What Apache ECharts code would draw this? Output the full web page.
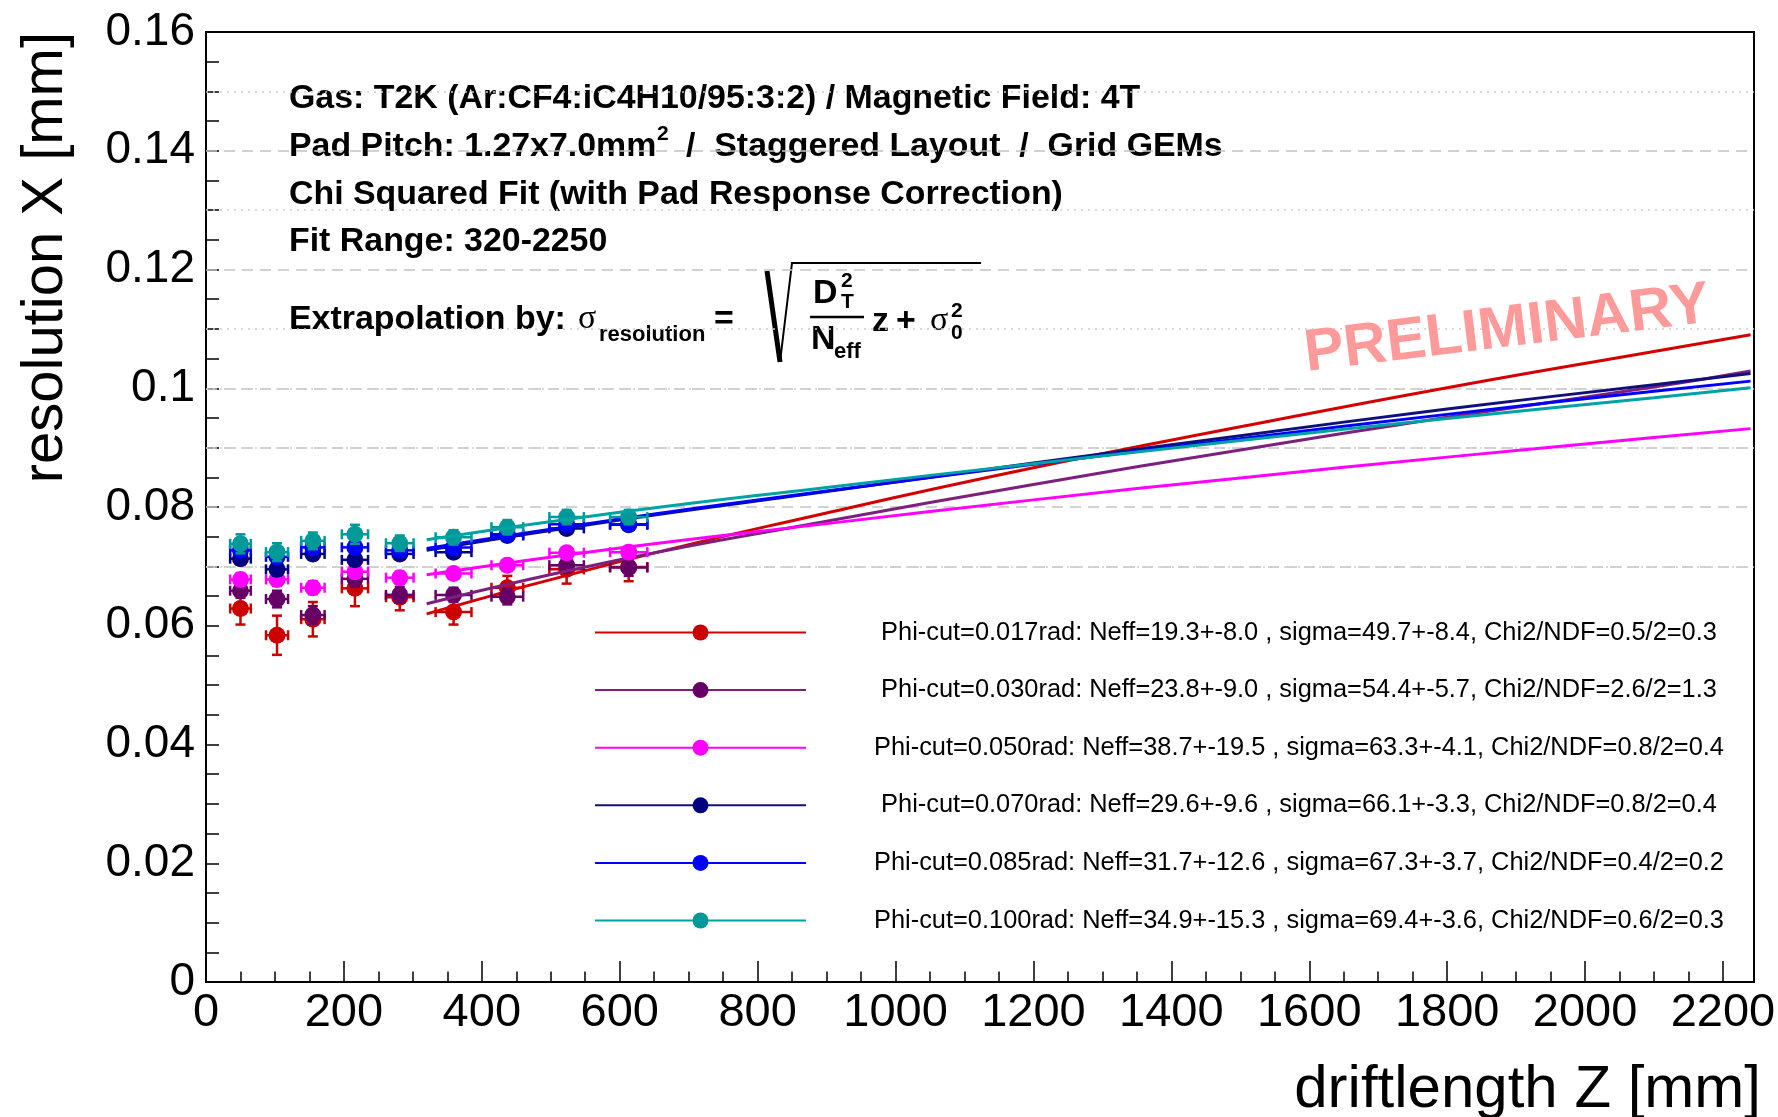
<!DOCTYPE html>
<html>
<head>
<meta charset="utf-8">
<script src="https://cdn.jsdelivr.net/npm/echarts@6/dist/echarts.min.js"></script>
<style>
  html, body { margin: 0; padding: 0; background: #ffffff; }
  #chart { width: 1778px; height: 1117px; }
</style>
</head>
<body>
<div id="chart"></div>
<script>
// ---- measured points: drift length bins (mm) and their half widths ----
const driftZ    = [50, 103, 155, 216, 281, 359, 437, 523, 613];
const driftZErr = [15, 16, 17, 19, 20, 26, 23, 25, 27];

// ---- legend / series labels ----
const seriesNames = [
  'Phi-cut=0.017rad: Neff=19.3+-8.0 , sigma=49.7+-8.4, Chi2/NDF=0.5/2=0.3',
  'Phi-cut=0.030rad: Neff=23.8+-9.0 , sigma=54.4+-5.7, Chi2/NDF=2.6/2=1.3',
  'Phi-cut=0.050rad: Neff=38.7+-19.5 , sigma=63.3+-4.1, Chi2/NDF=0.8/2=0.4',
  'Phi-cut=0.070rad: Neff=29.6+-9.6 , sigma=66.1+-3.3, Chi2/NDF=0.8/2=0.4',
  'Phi-cut=0.085rad: Neff=31.7+-12.6 , sigma=67.3+-3.7, Chi2/NDF=0.4/2=0.2',
  'Phi-cut=0.100rad: Neff=34.9+-15.3 , sigma=69.4+-3.6, Chi2/NDF=0.6/2=0.3'
];

// ---- resolution X (mm) per phi cut, with errors ----
const res017 = [0.0629, 0.0584, 0.0611, 0.0663, 0.0648, 0.0623, 0.0664, 0.0695, 0.0699];
const err017 = [0.0027, 0.0033, 0.0029, 0.0030, 0.0022, 0.0021, 0.0020, 0.0024, 0.0024];
const res030 = [0.0659, 0.0645, 0.0618, 0.0679, 0.0652, 0.0652, 0.0649, 0.0702, 0.0698];
const err030 = [0.0012, 0.0014, 0.0015, 0.0013, 0.0013, 0.0012, 0.0013, 0.0013, 0.0014];
const res050 = [0.0678, 0.0678, 0.0664, 0.0691, 0.0681, 0.0688, 0.0702, 0.0723, 0.0724];
const err050 = [0.0010, 0.0011, 0.0011, 0.0010, 0.0010, 0.0009, 0.0009, 0.0009, 0.0009];
const res070 = [0.0713, 0.0695, 0.0721, 0.0711, 0.0721, 0.0724, 0.0752, 0.0764, 0.0770];
const err070 = [0.0010, 0.0011, 0.0010, 0.0010, 0.0009, 0.0009, 0.0009, 0.0009, 0.0009];
const res085 = [0.0727, 0.0716, 0.0732, 0.0732, 0.0727, 0.0732, 0.0754, 0.0771, 0.0771];
const err085 = [0.0010, 0.0010, 0.0010, 0.0010, 0.0009, 0.0009, 0.0009, 0.0009, 0.0009];
const res100 = [0.0738, 0.0724, 0.0743, 0.0754, 0.0739, 0.0749, 0.0766, 0.0783, 0.0783];
const err100 = [0.0016, 0.0015, 0.0014, 0.0016, 0.0013, 0.0012, 0.0012, 0.0012, 0.0012];

// ---- extrapolated fit curves sampled along the drift length ----
const fitZ   = [320, 600, 900, 1200, 1500, 1800, 2100, 2240];
const fit017 = [0.0620, 0.0708, 0.0790, 0.0866, 0.0935, 0.1001, 0.1062, 0.1090];
const fit030 = [0.0637, 0.0711, 0.0776, 0.0838, 0.0896, 0.0951, 0.1002, 0.1029];
const fit050 = [0.0686, 0.0731, 0.0772, 0.0812, 0.0849, 0.0884, 0.0917, 0.0932];
const fit070 = [0.0727, 0.0778, 0.0826, 0.0874, 0.0920, 0.0965, 0.1006, 0.1025];
const fit085 = [0.0730, 0.0780, 0.0827, 0.0872, 0.0915, 0.0956, 0.0995, 0.1012];
const fit100 = [0.0745, 0.0791, 0.0833, 0.0873, 0.0912, 0.0949, 0.0984, 0.1001];

// ---- horizontal reference levels ----
const dashedLevels = [0.07, 0.08, 0.09, 0.10, 0.12, 0.14];
const dottedLevels = [0.075, 0.085, 0.095, 0.11, 0.13, 0.15];

// ---- styling ----
const FONT = '"Liberation Sans", Arial, Helvetica, sans-serif';
const SERIF = '"Liberation Serif", "DejaVu Serif", serif';
const markerColors = ['#cc0000', '#660066', '#ff00ff', '#000080', '#0000ff', '#009999'];
const lineColors   = ['#d40000', '#7d1f7d', '#ff00ff', '#10107a', '#0000ff', '#00a3a3'];

const resSets = [res017, res030, res050, res070, res085, res100];
const errSets = [err017, err030, err050, err070, err085, err100];
const fitSets = [fit017, fit030, fit050, fit070, fit085, fit100];

function errorBarRenderer(color) {
  return function (params, api) {
    const x = api.value(0), y = api.value(1), ex = api.value(2), ey = api.value(3);
    const c = api.coord([x, y]);
    const l = api.coord([x - ex, y]);
    const r = api.coord([x + ex, y]);
    const t = api.coord([x, y + ey]);
    const b = api.coord([x, y - ey]);
    const cap = 5;
    const style = { stroke: color, lineWidth: 2.5, fill: null };
    const seg = (x1, y1, x2, y2) => ({ type: 'line', shape: { x1, y1, x2, y2 }, style });
    return {
      type: 'group',
      children: [
        seg(l[0], c[1], r[0], c[1]),
        seg(l[0], c[1] - cap, l[0], c[1] + cap),
        seg(r[0], c[1] - cap, r[0], c[1] + cap),
        seg(c[0], t[1], c[0], b[1]),
        seg(c[0] - cap, t[1], c[0] + cap, t[1]),
        seg(c[0] - cap, b[1], c[0] + cap, b[1])
      ]
    };
  };
}

const series = [];

// background reference levels
series.push({
  type: 'line',
  name: 'levels',
  data: [],
  silent: true,
  z: 1,
  markLine: {
    silent: true,
    symbol: 'none',
    animation: false,
    label: { show: false },
    data: dashedLevels.map(v => ({ yAxis: v, lineStyle: { type: [11, 7], color: '#c4c4c4', width: 1.6 } }))
      .concat(dottedLevels.map(v => ({ yAxis: v, lineStyle: { type: [2, 5], color: '#cdcdcd', width: 1.6 } })))
  }
});

seriesNames.forEach((name, i) => {
  const base = 10 + i * 3;
  // fit curve (first so that the legend icon shows line + marker)
  series.push({
    type: 'line',
    name,
    data: fitZ.map((z, k) => [z, fitSets[i][k]]),
    smooth: true,
    symbol: 'circle',
    symbolSize: 16,
    showSymbol: false,
    silent: true,
    lineStyle: { color: lineColors[i], width: 3 },
    itemStyle: { color: markerColors[i] },
    z: base + 2
  });
  // error bars
  series.push({
    type: 'custom',
    name,
    silent: true,
    renderItem: errorBarRenderer(markerColors[i]),
    encode: { x: 0, y: 1 },
    data: driftZ.map((z, k) => [z, resSets[i][k], driftZErr[k], errSets[i][k]]),
    z: base
  });
  // markers
  series.push({
    type: 'scatter',
    name,
    silent: true,
    symbol: 'circle',
    symbolSize: 17,
    itemStyle: { color: markerColors[i], opacity: 1 },
    data: driftZ.map((z, k) => [z, resSets[i][k]]),
    z: base + 1
  });
});

const H1 = 'bold 33.9px ' + FONT;
const HS = 'bold 21px ' + FONT;
const txt = (x, y, text, font, extra) => Object.assign({
  type: 'text', x, y, silent: true,
  style: Object.assign({ text, font, fill: '#000', textAlign: 'left', textVerticalAlign: 'middle' }, extra || {})
});

const graphics = [
  // axis titles
  { type: 'text', x: 46, y: 32, rotation: Math.PI / 2, silent: true,
    style: { text: 'resolution X [mm]', font: '58px ' + FONT, fill: '#000', textAlign: 'right', textVerticalAlign: 'middle' } },
  { type: 'text', x: 1761, y: 1090, silent: true,
    style: { text: 'driftlength Z [mm]', font: '60px ' + FONT, fill: '#000', textAlign: 'right', textVerticalAlign: 'middle' } },

  // run description
  txt(289, 99, 'Gas: T2K (Ar:CF4:iC4H10/95:3:2) / Magnetic Field: 4T', H1),
  txt(289, 147, 'Pad Pitch: 1.27x7.0mm', H1),
  txt(657, 134, '2', HS),
  txt(686, 147, '/  Staggered Layout  /  Grid GEMs', H1),
  txt(289, 195, 'Chi Squared Fit (with Pad Response Correction)', H1),
  txt(289, 242, 'Fit Range: 320-2250', H1),

  // extrapolation formula
  txt(289, 320, 'Extrapolation by:', H1),
  txt(578, 319, 'σ', '34px ' + SERIF),
  txt(599, 335, 'resolution', 'bold 22px ' + FONT),
  txt(714, 320, '=', H1),
  { type: 'polyline', silent: true, shape: { points: [[767, 271], [780, 362]] },
    style: { stroke: '#000', lineWidth: 5, fill: null } },
  { type: 'polyline', silent: true, shape: { points: [[780, 362], [792, 263], [981, 263]] },
    style: { stroke: '#000', lineWidth: 2, fill: null } },
  txt(813, 294, 'D', H1),
  txt(841, 281, '2', HS),
  txt(841, 302, 'T', HS),
  { type: 'line', silent: true, shape: { x1: 810, y1: 317, x2: 864, y2: 317 },
    style: { stroke: '#000', lineWidth: 2.5 } },
  txt(811, 340, 'N', H1),
  txt(834, 352, 'eff', 'bold 22px ' + FONT),
  txt(872, 322, 'z', H1),
  txt(896, 322, '+', H1),
  txt(930, 321, 'σ', '34px ' + SERIF),
  txt(951, 311, '2', HS),
  txt(951, 333, '0', HS),

  // watermark
  { type: 'text', x: 1507, y: 330, rotation: 0.122, silent: true, z: 100,
    style: { text: 'PRELIMINARY', font: 'bold 59.5px ' + FONT, fill: '#ff9a9a', textAlign: 'center', textVerticalAlign: 'middle' } }
];

const chart = echarts.init(document.getElementById('chart'), null, { renderer: 'canvas' });
chart.setOption({
  animation: false,
  backgroundColor: '#ffffff',
  grid: {
    left: 206, right: 24, top: 32, bottom: 135,
    containLabel: false,
    outerBoundsMode: 'none',
    show: true, borderColor: '#000', borderWidth: 2, backgroundColor: 'transparent'
  },
  xAxis: [
    {
      type: 'value', min: 0, max: 2245, interval: 200,
      axisLine: { show: true, onZero: false, lineStyle: { color: '#000', width: 2 } },
      axisTick: { show: true, inside: true, length: 21, lineStyle: { color: '#000', width: 1.5 } },
      minorTick: { show: false },
      splitLine: { show: false },
      axisLabel: {
        show: true, color: '#000', fontSize: 47, fontFamily: FONT, margin: 8,
        showMaxLabel: false, hideOverlap: false,
        formatter: v => String(Math.round(v))
      }
    },
    {
      // fine ticks every 50 mm
      type: 'value', min: 0, max: 2245, interval: 50, position: 'bottom',
      axisLine: { show: false },
      axisTick: { show: true, inside: true, length: 10.5, lineStyle: { color: '#000', width: 1.5 } },
      axisLabel: { show: false },
      splitLine: { show: false }
    }
  ],
  yAxis: {
    type: 'value', min: 0, max: 0.16, interval: 0.02,
    axisLine: { show: true, onZero: false, lineStyle: { color: '#000', width: 2 } },
    axisTick: { show: true, inside: true, length: 13, lineStyle: { color: '#000', width: 1.5 } },
    minorTick: { show: true, splitNumber: 4, length: 13, lineStyle: { color: '#000', width: 1.5 } },
    splitLine: { show: false },
    axisLabel: {
      color: '#000', fontSize: 46, fontFamily: FONT, margin: 11,
      formatter: v => (v === 0 ? '0' : String(+v.toFixed(3)))
    }
  },
  legend: {
    data: seriesNames,
    orient: 'vertical',
    left: 589, top: 615,
    itemWidth: 211, itemHeight: 20, itemGap: 32.6,
    selectedMode: false,
    lineStyle: { width: 2 },
    formatter: name => '{c|' + name + '}',
    textStyle: {
      color: '#000', fontSize: 25.4, fontFamily: FONT,
      rich: { c: { width: 880, align: 'center', padding: [0, 0, 0, 48], fontSize: 25.4, fontFamily: FONT, lineHeight: 20, color: '#000' } }
    }
  },
  graphic: graphics,
  series
});
</script>
</body>
</html>
